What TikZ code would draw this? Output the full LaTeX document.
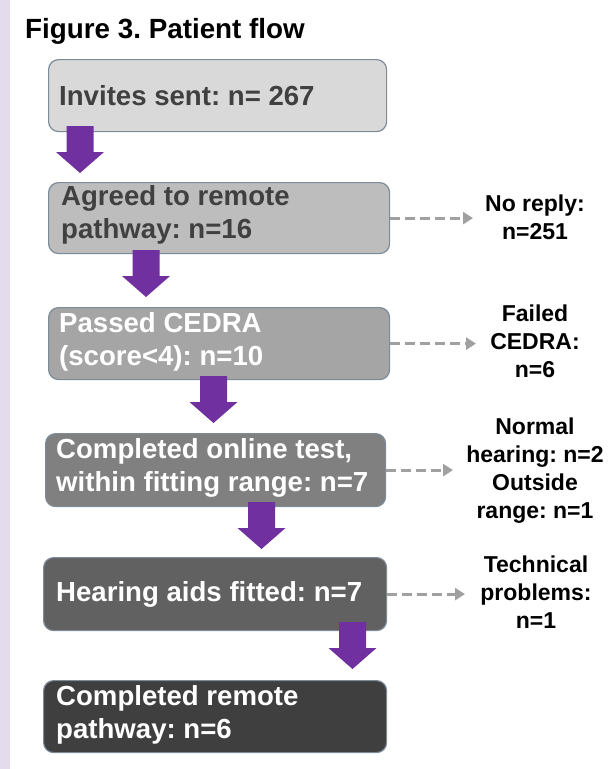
\documentclass[tikz,border=0pt]{standalone}
\usepackage{fontspec}
\setmainfont{Liberation Sans}
\usetikzlibrary{arrows.meta,calc}
\frenchspacing
\definecolor{lav}{RGB}{228,219,236}
\definecolor{arrowpurple}{HTML}{7030A0}
\definecolor{boxborder}{RGB}{125,138,152}
\definecolor{dashgray}{HTML}{A0A0A0}
\definecolor{darktext}{HTML}{404040}
\definecolor{fillA}{HTML}{D9D9D9}
\definecolor{fillB}{HTML}{BDBDBD}
\definecolor{fillC}{HTML}{A5A5A5}
\definecolor{fillD}{HTML}{808080}
\definecolor{fillE}{HTML}{616161}
\definecolor{fillF}{HTML}{3F3F3F}
\tikzset{
  flowbox/.style={draw=boxborder, line width=1.2pt, rounded corners=10pt, anchor=north west, inner sep=0pt},
  boxtext/.style={anchor=west, align=left, inner sep=0pt, font=\bfseries\fontsize{27.6}{33}\selectfont},
  sidetext/.style={align=center, inner sep=0pt, font=\bfseries\fontsize{23}{28}\selectfont, text=black},
  dashconn/.style={draw=dashgray, line width=3pt, dash pattern=on 10pt off 5pt, -{Triangle[length=10pt,width=12pt,fill=dashgray]}},
  blockarrow/.pic={\fill[arrowpurple] (-13.5,0) -- (13.5,0) -- (13.5,26) -- (24,26) -- (0,47) -- (-24,26) -- (-13.5,26) -- cycle;}
}
\begin{document}
\begin{tikzpicture}[x=1pt,y=-1pt]
\fill[white] (0,0) rectangle (611,769);
\useasboundingbox (0,0) rectangle (611,769);
\fill[lav] (0,0) rectangle (10,769);

\node[anchor=base west, inner sep=0pt, font=\bfseries\fontsize{27.8}{33}\selectfont] (title) at (25,38) {Figure 3. Patient flow};

% boxes
\node[flowbox, fill=fillA, minimum width=338pt, minimum height=72pt] (b1) at (48,59) {};
\node[flowbox, fill=fillB, minimum width=341pt, minimum height=71pt] (b2) at (48,182) {};
\node[flowbox, fill=fillC, minimum width=341pt, minimum height=72pt] (b3) at (48,307) {};
\node[flowbox, fill=fillD, minimum width=340pt, minimum height=73pt] (b4) at (45,433) {};
\node[flowbox, fill=fillE, minimum width=343pt, minimum height=73pt] (b5) at (43,557) {};
\node[flowbox, fill=fillF, minimum width=343pt, minimum height=72pt] (b6) at (43,680) {};

\node[boxtext, text=darktext] (t1) at ($(b1.west)+(11,0)$) {Invites sent: n= 267};
\node[boxtext, text=darktext] (t2) at ($(b2.west)+(13,-3)$) {Agreed to remote\\pathway: n=16};
\node[boxtext, text=white] (t3) at ($(b3.west)+(11,-2)$) {Passed CEDRA\\(score<4): n=10};
\node[boxtext, text=white] (t4) at ($(b4.west)+(11,-2)$) {Completed online test,\\within fitting range: n=7};
\node[boxtext, text=white] (t5) at ($(b5.west)+(13,0)$) {Hearing aids fitted: n=7};
\node[boxtext, text=white] (t6) at ($(b6.west)+(13,-2)$) {Completed remote\\pathway: n=6};

% block arrows
\pic at (80,126) {blockarrow};
\pic at (146,250) {blockarrow};
\pic at (213.5,376) {blockarrow};
\pic at (261.5,502) {blockarrow};
\pic at (352.5,622) {blockarrow};

% side labels
\node[sidetext] (s1) at (535,217.5) {No reply:\\n=251};
\node[sidetext] (s2) at (535,341.5) {Failed\\CEDRA:\\n=6};
\node[sidetext] (s3) at (535,470.5) {Normal\\hearing: n=2\\Outside\\range: n=1};
\node[sidetext] (s4) at (536,592.5) {Technical\\problems:\\n=1};

\coordinate (e1) at (473,0);
\coordinate (e2) at (476,0);
\coordinate (e3) at (453,0);
\coordinate (e4) at (465,0);
\draw[dashconn] (b2.east) -- (b2.east -| e1);
\draw[dashconn] (b3.east) -- (b3.east -| e2);
\draw[dashconn] (b4.east) -- (b4.east -| e3);
\draw[dashconn] (b5.east) -- (b5.east -| e4);
\end{tikzpicture}
\end{document}
